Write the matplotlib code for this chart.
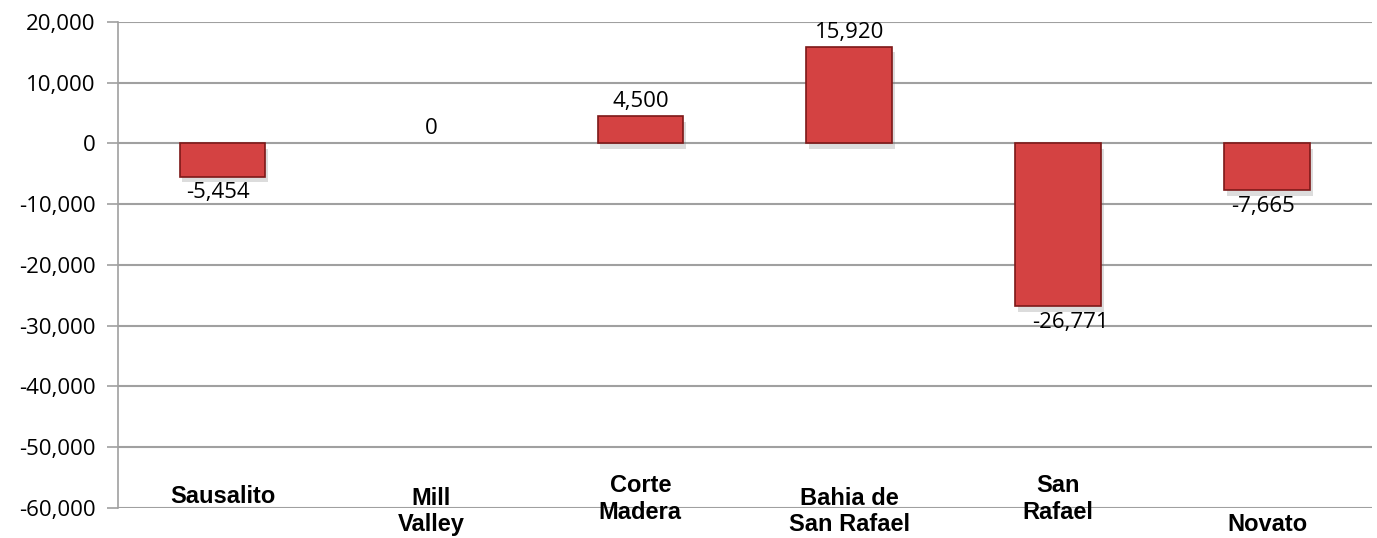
import numpy as np
import matplotlib
import matplotlib.pyplot as plt
import matplotlib.patheffects as pe

matplotlib.rc("font", size=16)

places = ["Sausalito", "Mill\nValley", "Corte\nMadera", "Bahia de\nSan Rafael", "San\nRafael", "Novato"]
change = [-5454, 0, 4500, 15920, -26771, -7665]
yticks = [20000, 10000, 0, -10000, -20000, -30000, -40000, -50000, -60000]

# vertical placement of each category label (axes fraction), Excel staggers them
label_y = [0.023, -0.007, 0.018, -0.007, 0.018, -0.035]

fig = plt.figure(figsize=(13.77, 5.38), dpi=100)
ax = fig.add_axes([0.0857, 0.0558, 0.9104, 0.9034])

x = np.arange(len(places))
bars = ax.bar(x, change, width=0.41, color="#d44242", edgecolor="#7d1818", linewidth=1.2, zorder=3)
for b, v in zip(bars, change):
    if v == 0:
        b.set_visible(False)
        continue
    b.set_path_effects([pe.SimplePatchShadow(offset=(2, -4), shadow_rgbFace="#777777", alpha=0.25), pe.Normal()])

for xi, v in zip(x, change):
    txt = f"{v:,}"
    if v >= 0:
        ax.annotate(txt, (xi, v), xytext=(0, 3), textcoords="offset points",
                    ha="center", va="bottom", fontfamily="Open Sans", fontsize=16)
    else:
        dx = 9 if v < -20000 else -3
        ax.annotate(txt, (xi, v), xytext=(dx, -4), textcoords="offset points",
                    ha="center", va="top", fontfamily="Open Sans", fontsize=16)

ax.set_xlim(-0.5, len(places) - 0.5)
ax.set_ylim(-60000, 20000)
ax.set_yticks(yticks)
ax.set_yticklabels([f"{t:,}" for t in yticks], fontfamily="Open Sans", fontsize=16)
ax.yaxis.grid(True, color="#a0a0a0", linewidth=1.5, zorder=0)
ax.set_xticks([])
ax.tick_params(axis="y", length=8, color="#a0a0a0", width=1.2, pad=8)

for s in ["top", "right", "bottom"]:
    ax.spines[s].set_visible(False)
ax.spines["left"].set_color("#a0a0a0")
ax.spines["left"].set_linewidth(1.2)

trans = ax.get_xaxis_transform()
for xi, name, ly in zip(x, places, label_y):
    ax.text(xi, ly, name, transform=trans, ha="center", va="center",
            fontfamily="Liberation Sans", fontweight="bold", fontsize=17, linespacing=1.2)

fig.savefig("out.png", dpi=100)
